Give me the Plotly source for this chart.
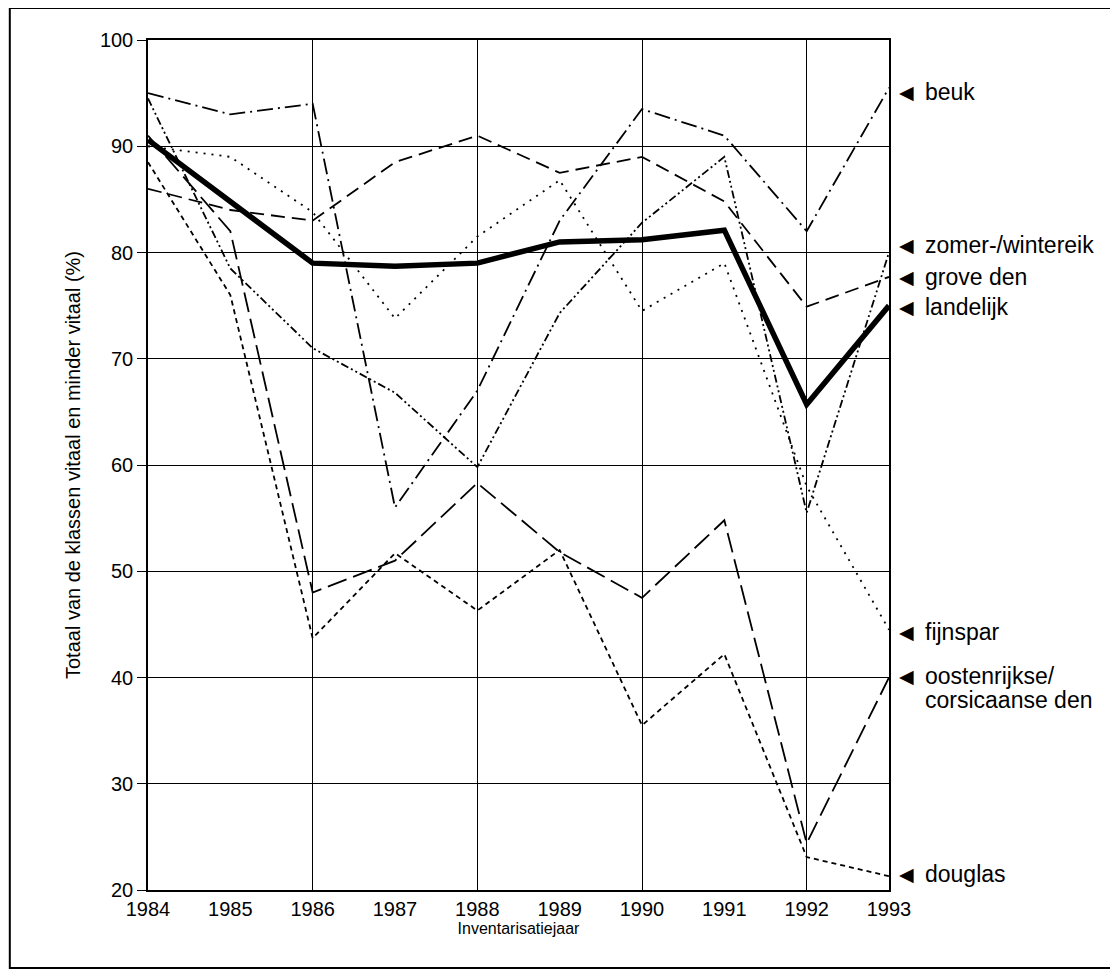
import plotly.graph_objects as go

years = [1984, 1985, 1986, 1987, 1988, 1989, 1990, 1991, 1992, 1993]

beuk = [95, 93, 94, 56, 67, 83, 93.5, 91, 82, 95.5]
zomer_wintereik = [94.5, 78.5, 71, 66.8, 59.8, 74.3, 82.8, 89, 55.5, 80]
grove_den = [86, 84, 83, 88.5, 91, 87.5, 89, 84.8, 74.9, 77.7]
landelijk = [90.6, 84.8, 79, 78.7, 79, 81, 81.2, 82.1, 65.7, 75]
fijnspar = [90, 89, 83.8, 73.8, 81.5, 86.8, 74.5, 79, 58, 44.5]
oostenrijkse = [91, 82, 48, 51, 58.3, 51.8, 47.5, 54.8, 24.4, 40]
douglas = [88.5, 76, 43.7, 51.7, 46.3, 52, 35.5, 42.2, 23.1, 21.3]

label_texts = ["beuk", "zomer-/wintereik", "grove den", "landelijk", "fijnspar",
               "oostenrijkse/", "douglas"]
label_y = [95.1, 80.75, 77.7, 74.9, 44.3, 40.1, 21.5]

FONT = "Liberation Sans, Arial, Helvetica, sans-serif"

fig = go.Figure()

def add(vals, dash, width=1.8, name=""):
    fig.add_trace(go.Scatter(x=years, y=vals, mode="lines", name=name,
                             line=dict(color="black", width=width, dash=dash),
                             showlegend=False))

add(beuk, "16px,5px,2px,5px", name="beuk")
add(zomer_wintereik, "8px,3px,2px,3px,2px,3px", name="zomer-/wintereik")
add(grove_den, "14px,7px", name="grove den")
add(fijnspar, "2px,6px", name="fijnspar")
add(oostenrijkse, "20px,7px", name="oostenrijkse/corsicaanse den")
add(douglas, "5px,4px", name="douglas")
add(landelijk, "solid", width=5.5, name="landelijk")

for t, yv in zip(label_texts, label_y):
    fig.add_annotation(x=1.024, xref="paper", y=yv, yref="y", text="◀",
                       showarrow=False, xanchor="center", yanchor="middle",
                       font=dict(family="DejaVu Sans", size=19, color="black"))
    fig.add_annotation(x=1.046, xref="paper", y=yv, yref="y", text=t,
                       showarrow=False, xanchor="left", yanchor="middle",
                       font=dict(family=FONT, size=23, color="black"))
fig.add_annotation(x=1.046, xref="paper", y=37.9, yref="y", text="corsicaanse den",
                   showarrow=False, xanchor="left", yanchor="middle",
                   font=dict(family=FONT, size=23, color="black"))

# outer frame
fig.add_shape(type="rect", xref="paper", yref="paper",
              x0=-0.1865, x1=1.301, y0=-0.0918, y1=1.0376,
              line=dict(color="black", width=2), layer="below")

fig.update_layout(
    width=1118, height=976,
    margin=dict(l=140, r=237, t=32, b=94),
    paper_bgcolor="white", plot_bgcolor="white",
    font=dict(family=FONT, size=20, color="black"),
    xaxis=dict(
        range=[1984, 1993], tickvals=years, ticktext=[str(y) for y in years],
        showgrid=False, showline=True, mirror=True, linecolor="black", linewidth=1.5,
        ticks="", zeroline=False,
        minor=dict(tickvals=[1984, 1986, 1988, 1990, 1992], showgrid=True,
                   gridcolor="black", gridwidth=1.2, ticks=""),
        title=dict(text="Inventarisatiejaar", font=dict(size=16), standoff=0),
        tickfont=dict(size=20),
    ),
    yaxis=dict(
        range=[20, 100], tickvals=[20, 30, 40, 50, 60, 70, 80, 90, 100],
        showgrid=True, gridcolor="black", gridwidth=1.2,
        showline=True, mirror=True, linecolor="black", linewidth=1.5,
        ticks="outside", ticklen=9, tickcolor="black", zeroline=False,
        title=dict(text="Totaal van de klassen vitaal en minder vitaal (%)",
                   font=dict(size=20), standoff=14),
        tickfont=dict(size=20),
    ),
)

fig.write_html("out.html")
